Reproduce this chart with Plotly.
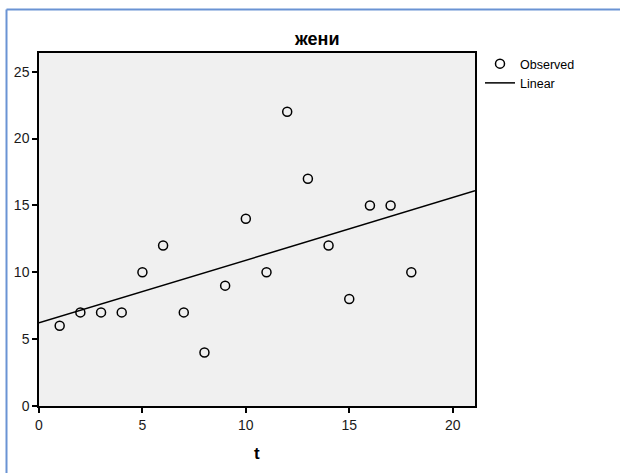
import numpy as np
import plotly.graph_objects as go

t = [1, 2, 3, 4, 5, 6, 7, 8, 9, 10, 11, 12, 13, 14, 15, 16, 17, 18]
observed = [6, 7, 7, 7, 10, 12, 7, 4, 9, 14, 10, 22, 17, 12, 8, 15, 15, 10]
x_range = [0, 21.08]
y_range = [0, 26.4]
x_ticks = [0, 5, 10, 15, 20]
y_ticks = [0, 5, 10, 15, 20, 25]
title_text = "жени"
x_title = "t"

slope, intercept = np.polyfit(t, observed, 1)
fit_x = np.array(x_range)
fit_y = intercept + slope * fit_x

W, H = 620, 473
ml, mr, mt, mb = 39, 145, 53, 67
pw, ph = W - ml - mr, H - mt - mb

def px(xp):
    return (xp - ml) / pw

def py(yp):
    return (H - mb - yp) / ph

fig = go.Figure()
fig.add_trace(go.Scatter(
    x=t, y=observed, mode="markers", name="Observed",
    marker=dict(symbol="circle-open", size=9, color="#000000", line=dict(width=1.5, color="#000000")),
    cliponaxis=False,
))
fig.add_trace(go.Scatter(
    x=fit_x, y=fit_y, mode="lines", name="Linear",
    line=dict(color="#000000", width=1.5),
))

axis_common = dict(
    showgrid=False, zeroline=False, showline=True, linecolor="#000000", linewidth=1.5,
    mirror=True, ticks="outside", ticklen=5, tickwidth=1.5, tickcolor="#000000",
    tickfont=dict(family="Liberation Sans, Arial, sans-serif", size=14, color="#1a1a1a"),
)

fig.update_layout(
    width=W, height=H,
    margin=dict(l=ml, r=mr, t=mt, b=mb),
    paper_bgcolor="#FFFFFF", plot_bgcolor="#F0F0F0",
    xaxis=dict(range=x_range, tickvals=x_ticks, **axis_common),
    yaxis=dict(range=y_range, tickvals=y_ticks, **axis_common),
    showlegend=True,
    legend=dict(x=px(480), y=py(49), xanchor="left", yanchor="top", bgcolor="rgba(0,0,0,0)",
                font=dict(family="Liberation Sans, Arial, sans-serif", size=12.5, color="#000000"),
                itemwidth=30, tracegroupgap=0),
    annotations=[
        dict(text="<b>" + title_text + "</b>", x=px(316), y=py(39), xref="paper", yref="paper",
             showarrow=False, xanchor="center", yanchor="middle",
             font=dict(family="Liberation Sans, Arial, sans-serif", size=18, color="#000000")),
        dict(text="<b>" + x_title + "</b>", x=px(257), y=py(453), xref="paper", yref="paper",
             showarrow=False, xanchor="center", yanchor="middle",
             font=dict(family="Liberation Sans, Arial, sans-serif", size=17, color="#000000")),
    ],
    shapes=[
        dict(type="line", xref="paper", yref="paper", x0=px(6.5), x1=px(W + 2), y0=py(9.5), y1=py(9.5),
             line=dict(color="#6A93D4", width=2)),
        dict(type="line", xref="paper", yref="paper", x0=px(6.5), x1=px(6.5), y0=py(9.5), y1=py(H + 2),
             line=dict(color="#6A93D4", width=2)),
    ],
)

fig.write_html("out.html")
